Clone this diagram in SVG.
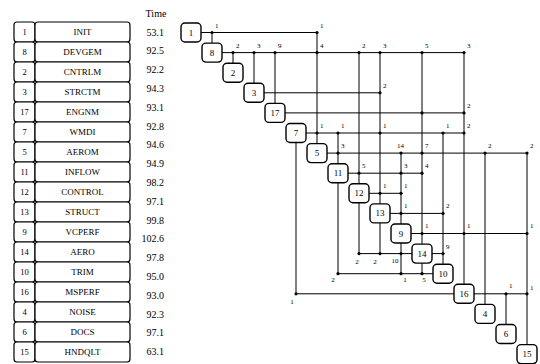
<svg xmlns="http://www.w3.org/2000/svg" width="540" height="364" viewBox="0 0 540 364">
<style>
text{font-family:"Liberation Serif","Times New Roman",serif;fill:#000}
.cell{fill:#fff;stroke:#000;stroke-width:1.2}
.nb{fill:#fff;stroke:#000;stroke-width:1.4}
.tn{font-size:8.5px;text-anchor:middle}
.tm{font-size:9px;text-anchor:middle}
.tv{font-size:10px;text-anchor:end}
.nl{font-size:9px;text-anchor:middle}
.lb{font-size:7px}
.lm{font-size:7px;text-anchor:middle}
.ln{stroke:#000;stroke-width:1;fill:none}
.dt{fill:#000}
</style>
<text x="156" y="17" style="font-size:10px;text-anchor:middle">Time</text>
<g id="times">
<text class="tv" x="164" y="35.5">53.1</text>
<text class="tv" x="164" y="54.3">92.5</text>
<text class="tv" x="164" y="73.1">92.2</text>
<text class="tv" x="164" y="91.9">94.3</text>
<text class="tv" x="164" y="110.7">93.1</text>
<text class="tv" x="164" y="129.5">92.8</text>
<text class="tv" x="164" y="148.3">94.6</text>
<text class="tv" x="164" y="167.1">94.9</text>
<text class="tv" x="164" y="185.9">98.2</text>
<text class="tv" x="164" y="204.7">97.1</text>
<text class="tv" x="164" y="223.5">99.8</text>
<text class="tv" x="164" y="242.3">102.6</text>
<text class="tv" x="164" y="261.1">97.8</text>
<text class="tv" x="164" y="279.9">95.0</text>
<text class="tv" x="164" y="298.7">93.0</text>
<text class="tv" x="164" y="317.5">92.3</text>
<text class="tv" x="164" y="336.3">97.1</text>
<text class="tv" x="164" y="355.1">63.1</text>
</g>
<g id="table">
<g id="row-1"><rect class="cell" x="14" y="22" width="21" height="20" rx="3"/><rect class="cell" x="35" y="22" width="95" height="20" rx="3"/><text class="tn" x="24.5" y="35">1</text><text class="tm" x="82.5" y="35">INIT</text></g>
<g id="row-8"><rect class="cell" x="14" y="42" width="21" height="20" rx="3"/><rect class="cell" x="35" y="42" width="95" height="20" rx="3"/><text class="tn" x="24.5" y="55">8</text><text class="tm" x="82.5" y="55">DEVGEM</text></g>
<g id="row-2"><rect class="cell" x="14" y="62" width="21" height="20" rx="3"/><rect class="cell" x="35" y="62" width="95" height="20" rx="3"/><text class="tn" x="24.5" y="75">2</text><text class="tm" x="82.5" y="75">CNTRLM</text></g>
<g id="row-3"><rect class="cell" x="14" y="82" width="21" height="20" rx="3"/><rect class="cell" x="35" y="82" width="95" height="20" rx="3"/><text class="tn" x="24.5" y="95">3</text><text class="tm" x="82.5" y="95">STRCTM</text></g>
<g id="row-17"><rect class="cell" x="14" y="102" width="21" height="20" rx="3"/><rect class="cell" x="35" y="102" width="95" height="20" rx="3"/><text class="tn" x="24.5" y="115">17</text><text class="tm" x="82.5" y="115">ENGNM</text></g>
<g id="row-7"><rect class="cell" x="14" y="122" width="21" height="20" rx="3"/><rect class="cell" x="35" y="122" width="95" height="20" rx="3"/><text class="tn" x="24.5" y="135">7</text><text class="tm" x="82.5" y="135">WMDI</text></g>
<g id="row-5"><rect class="cell" x="14" y="142" width="21" height="20" rx="3"/><rect class="cell" x="35" y="142" width="95" height="20" rx="3"/><text class="tn" x="24.5" y="155">5</text><text class="tm" x="82.5" y="155">AEROM</text></g>
<g id="row-11"><rect class="cell" x="14" y="162" width="21" height="20" rx="3"/><rect class="cell" x="35" y="162" width="95" height="20" rx="3"/><text class="tn" x="24.5" y="175">11</text><text class="tm" x="82.5" y="175">INFLOW</text></g>
<g id="row-12"><rect class="cell" x="14" y="182" width="21" height="20" rx="3"/><rect class="cell" x="35" y="182" width="95" height="20" rx="3"/><text class="tn" x="24.5" y="195">12</text><text class="tm" x="82.5" y="195">CONTROL</text></g>
<g id="row-13"><rect class="cell" x="14" y="202" width="21" height="20" rx="3"/><rect class="cell" x="35" y="202" width="95" height="20" rx="3"/><text class="tn" x="24.5" y="215">13</text><text class="tm" x="82.5" y="215">STRUCT</text></g>
<g id="row-9"><rect class="cell" x="14" y="222" width="21" height="20" rx="3"/><rect class="cell" x="35" y="222" width="95" height="20" rx="3"/><text class="tn" x="24.5" y="235">9</text><text class="tm" x="82.5" y="235">VCPERF</text></g>
<g id="row-14"><rect class="cell" x="14" y="242" width="21" height="20" rx="3"/><rect class="cell" x="35" y="242" width="95" height="20" rx="3"/><text class="tn" x="24.5" y="255">14</text><text class="tm" x="82.5" y="255">AERO</text></g>
<g id="row-10"><rect class="cell" x="14" y="262" width="21" height="20" rx="3"/><rect class="cell" x="35" y="262" width="95" height="20" rx="3"/><text class="tn" x="24.5" y="275">10</text><text class="tm" x="82.5" y="275">TRIM</text></g>
<g id="row-16"><rect class="cell" x="14" y="282" width="21" height="20" rx="3"/><rect class="cell" x="35" y="282" width="95" height="20" rx="3"/><text class="tn" x="24.5" y="295">16</text><text class="tm" x="82.5" y="295">MSPERF</text></g>
<g id="row-4"><rect class="cell" x="14" y="302" width="21" height="20" rx="3"/><rect class="cell" x="35" y="302" width="95" height="20" rx="3"/><text class="tn" x="24.5" y="315">4</text><text class="tm" x="82.5" y="315">NOISE</text></g>
<g id="row-6"><rect class="cell" x="14" y="322" width="21" height="20" rx="3"/><rect class="cell" x="35" y="322" width="95" height="20" rx="3"/><text class="tn" x="24.5" y="335">6</text><text class="tm" x="82.5" y="335">DOCS</text></g>
<g id="row-15"><rect class="cell" x="14" y="342" width="21" height="20" rx="3"/><rect class="cell" x="35" y="342" width="95" height="20" rx="3"/><text class="tn" x="24.5" y="355">15</text><text class="tm" x="82.5" y="355">HNDQLT</text></g>
</g>
<g id="connectors">
<path class="ln" d="M201 32.5H317 M222 52.6H464 M264 92.8H380 M285 112.9H464 M306 133H464 M327 153.1H527 M348 173.2H422 M369 193.3H401 M390 213.4H443 M411 233.5H527 M432 253.6H443 M474 293.8H527"/>
<path class="ln" d="M412 253.6H359 M433 273.7H338 M454 293.8H296"/>
<path class="ln" d="M212 32.5V43.1 M233 52.6V63.2 M254 52.6V83.3 M275 52.6V103.4 M317 32.5V143.6 M338 133V163.7 M359 52.6V183.8 M380 52.6V203.9 M401 153.1V224 M422 52.6V244.1 M443 133V264.2 M464 52.6V284.3 M485 153.1V304.4 M506 293.8V324.5 M527 153.1V344.6"/>
<path class="ln" d="M296 142.5V293.8 M338 182.7V273.7 M359 202.8V253.6 M380 222.9V253.6 M401 243V273.7 M422 263.1V273.7"/>
<g class="dt">
<circle cx="212" cy="32.5" r="1.6"/><circle cx="317" cy="32.5" r="1.6"/>
<circle cx="233" cy="52.6" r="1.6"/><circle cx="254" cy="52.6" r="1.6"/><circle cx="275" cy="52.6" r="1.6"/><circle cx="317" cy="52.6" r="1.6"/><circle cx="359" cy="52.6" r="1.6"/><circle cx="380" cy="52.6" r="1.6"/><circle cx="422" cy="52.6" r="1.6"/><circle cx="464" cy="52.6" r="1.6"/>
<circle cx="380" cy="92.8" r="1.6"/>
<circle cx="422" cy="112.9" r="1.6"/><circle cx="464" cy="112.9" r="1.6"/>
<circle cx="317" cy="133" r="1.6"/><circle cx="338" cy="133" r="1.6"/><circle cx="380" cy="133" r="1.6"/><circle cx="443" cy="133" r="1.6"/><circle cx="464" cy="133" r="1.6"/>
<circle cx="338" cy="153.1" r="1.6"/><circle cx="401" cy="153.1" r="1.6"/><circle cx="422" cy="153.1" r="1.6"/><circle cx="485" cy="153.1" r="1.6"/><circle cx="527" cy="153.1" r="1.6"/>
<circle cx="359" cy="173.2" r="1.6"/><circle cx="401" cy="173.2" r="1.6"/><circle cx="422" cy="173.2" r="1.6"/>
<circle cx="380" cy="193.3" r="1.6"/><circle cx="401" cy="193.3" r="1.6"/>
<circle cx="401" cy="213.4" r="1.6"/><circle cx="443" cy="213.4" r="1.6"/>
<circle cx="422" cy="233.5" r="1.6"/><circle cx="464" cy="233.5" r="1.6"/><circle cx="527" cy="233.5" r="1.6"/>
<circle cx="443" cy="253.6" r="1.6"/><circle cx="359" cy="253.6" r="1.6"/><circle cx="380" cy="253.6" r="1.6"/><circle cx="401" cy="253.6" r="1.6"/>
<circle cx="338" cy="273.7" r="1.6"/><circle cx="401" cy="273.7" r="1.6"/><circle cx="422" cy="273.7" r="1.6"/>
<circle cx="296" cy="293.8" r="1.6"/><circle cx="506" cy="293.8" r="1.6"/><circle cx="527" cy="293.8" r="1.6"/>
</g>
<g class="lb">
<text x="215" y="28">1</text><text x="320" y="28">1</text>
<text x="236" y="48">2</text><text x="257" y="48">3</text><text x="278" y="48">9</text><text x="320" y="48">4</text><text x="362" y="48">2</text><text x="383" y="48">3</text><text x="425" y="48">5</text><text x="467" y="48">3</text>
<text x="383" y="88">2</text>
<text x="467" y="108">2</text>
<text x="320" y="128">1</text><text x="341" y="128">1</text><text x="383" y="128">1</text><text x="446" y="128">1</text><text x="467" y="128">2</text>
<text x="341" y="148">3</text><text x="397" y="148">14</text><text x="425" y="148">7</text><text x="488" y="148">2</text><text x="530" y="148">2</text>
<text x="362" y="168">5</text><text x="404" y="168">3</text><text x="425" y="168">4</text>
<text x="383" y="188">1</text><text x="404" y="188">1</text>
<text x="404" y="208">1</text><text x="446" y="208">2</text>
<text x="425" y="228">1</text><text x="467" y="228">1</text><text x="530" y="228">1</text>
<text x="446" y="249">9</text>
<text x="509" y="288">1</text><text x="530" y="290">1</text>
</g>
<g class="lm">
<text x="357" y="264">2</text><text x="375" y="264">2</text><text x="395" y="263">10</text>
<text x="333" y="282">2</text><text x="405" y="282">1</text><text x="424" y="282">5</text>
<text x="292" y="304">1</text>
</g>
</g>
<g id="node-1"><rect class="nb" x="181" y="23" width="20" height="19" rx="4"/><text class="nl" x="191" y="35.5">1</text></g>
<g id="node-8"><rect class="nb" x="202" y="43.1" width="20" height="19" rx="4"/><text class="nl" x="212" y="55.6">8</text></g>
<g id="node-2"><rect class="nb" x="223" y="63.2" width="20" height="19" rx="4"/><text class="nl" x="233" y="75.7">2</text></g>
<g id="node-3"><rect class="nb" x="244" y="83.3" width="20" height="19" rx="4"/><text class="nl" x="254" y="95.8">3</text></g>
<g id="node-17"><rect class="nb" x="265" y="103.4" width="20" height="19" rx="4"/><text class="nl" x="275" y="115.9">17</text></g>
<g id="node-7"><rect class="nb" x="286" y="123.5" width="20" height="19" rx="4"/><text class="nl" x="296" y="136">7</text></g>
<g id="node-5"><rect class="nb" x="307" y="143.6" width="20" height="19" rx="4"/><text class="nl" x="317" y="156.1">5</text></g>
<g id="node-11"><rect class="nb" x="328" y="163.7" width="20" height="19" rx="4"/><text class="nl" x="338" y="176.2">11</text></g>
<g id="node-12"><rect class="nb" x="349" y="183.8" width="20" height="19" rx="4"/><text class="nl" x="359" y="196.3">12</text></g>
<g id="node-13"><rect class="nb" x="370" y="203.9" width="20" height="19" rx="4"/><text class="nl" x="380" y="216.4">13</text></g>
<g id="node-9"><rect class="nb" x="391" y="224" width="20" height="19" rx="4"/><text class="nl" x="401" y="236.5">9</text></g>
<g id="node-14"><rect class="nb" x="412" y="244.1" width="20" height="19" rx="4"/><text class="nl" x="422" y="256.6">14</text></g>
<g id="node-10"><rect class="nb" x="433" y="264.2" width="20" height="19" rx="4"/><text class="nl" x="443" y="276.7">10</text></g>
<g id="node-16"><rect class="nb" x="454" y="284.3" width="20" height="19" rx="4"/><text class="nl" x="464" y="296.8">16</text></g>
<g id="node-4"><rect class="nb" x="475" y="304.4" width="20" height="19" rx="4"/><text class="nl" x="485" y="316.9">4</text></g>
<g id="node-6"><rect class="nb" x="496" y="324.5" width="20" height="19" rx="4"/><text class="nl" x="506" y="337">6</text></g>
<g id="node-15"><rect class="nb" x="517" y="344.6" width="20" height="19" rx="4"/><text class="nl" x="527" y="357.1">15</text></g>
</svg>
